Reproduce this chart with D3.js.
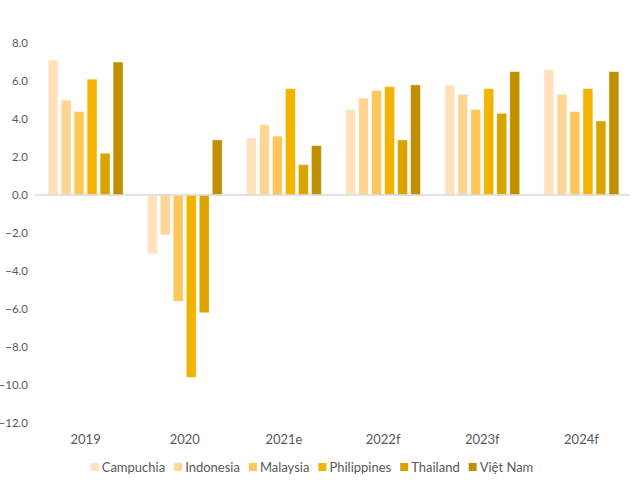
<!DOCTYPE html>
<html><head><meta charset="utf-8">
<script src="https://cdn.jsdelivr.net/npm/d3@7"></script>
<style>body{margin:0;background:#fff}svg{display:block}</style>
</head><body><svg id="c" width="640" height="486"></svg>
<script>
const categories = ["2019","2020","2021e","2022f","2023f","2024f"];
const seriesNames = ["Campuchia","Indonesia","Malaysia","Philippines","Thailand","Việt Nam"];
const campuchia   = [7.1,-3.1,3.0,4.5,5.8,6.6];
const indonesia   = [5.0,-2.1,3.7,5.1,5.3,5.3];
const malaysia    = [4.4,-5.6,3.1,5.5,4.5,4.4];
const philippines = [6.1,-9.6,5.6,5.7,5.6,5.6];
const thailand    = [2.2,-6.2,1.6,2.9,4.3,3.9];
const vietnam     = [7.0,2.9,2.6,5.8,6.5,6.5];
const yTicks = [8,6,4,2,0,-2,-4,-6,-8,-10,-12];
const colors = ["#FFE1BD","#FFD594","#FFC65A","#F2B400","#D9A300","#BF8F00"];

const values = [campuchia,indonesia,malaysia,philippines,thailand,vietnam];
const svg = d3.select("#c");
const font = "Lato, 'Open Sans', sans-serif";

const y = d3.scaleLinear().domain([-12,8]).range([423,43]);
const x0 = d3.scaleBand().domain(categories).range([36,631]);
const gw = x0.bandwidth()*0.756;
const x1 = d3.scaleBand().domain(seriesNames).range([0,gw]).paddingInner(0.23);

// y axis labels
const yAxis = d3.axisLeft(y).tickValues(yTicks).tickFormat(d3.format(".1f")).tickSize(0).tickPadding(0);
const ya = svg.append("g").attr("transform","translate(28,0)").call(yAxis);
ya.select(".domain").remove();
ya.selectAll("text").attr("fill","#595959").style("font-family",font).style("font-size","11.5px");

// bars
seriesNames.forEach((s,i)=>{
  svg.append("g").selectAll("rect").data(categories).join("rect")
    .attr("x",c=>x0(c)+(x0.bandwidth()-gw)/2+x1(s))
    .attr("width",x1.bandwidth())
    .attr("y",(c,j)=>y(Math.max(0,values[i][j])))
    .attr("height",(c,j)=>Math.abs(y(values[i][j])-y(0)))
    .attr("fill",colors[i])
    .attr("stroke","#ffffff").attr("stroke-opacity",0.5).attr("stroke-width",1);
});

// zero line
svg.append("line").attr("x1",35).attr("x2",630).attr("y1",y(0)).attr("y2",y(0))
  .attr("stroke","#D9D9D9").attr("stroke-width",1.5);

// category labels
const xAxis = d3.axisBottom(x0).tickSize(0).tickPadding(0);
const xa = svg.append("g").attr("transform","translate(0,435)").call(xAxis);
xa.select(".domain").remove();
xa.selectAll("text").attr("fill","#595959").style("font-family",font).style("font-size","13px");

// legend
const lg = svg.append("g");
let cx = 0;
seriesNames.forEach((s,i)=>{
  const g = lg.append("g").attr("transform",`translate(${cx},0)`);
  g.append("rect").attr("x",0).attr("y",-4).attr("width",8).attr("height",8).attr("fill",colors[i]);
  const t = g.append("text").attr("x",11).attr("y",4.5).text(s)
    .attr("fill","#595959").style("font-family",font).style("font-size","13px");
  cx += 11 + t.node().getComputedTextLength() + 9;
});
const total = cx - 9;
lg.attr("transform",`translate(${312-total/2},467)`);
</script></body></html>
